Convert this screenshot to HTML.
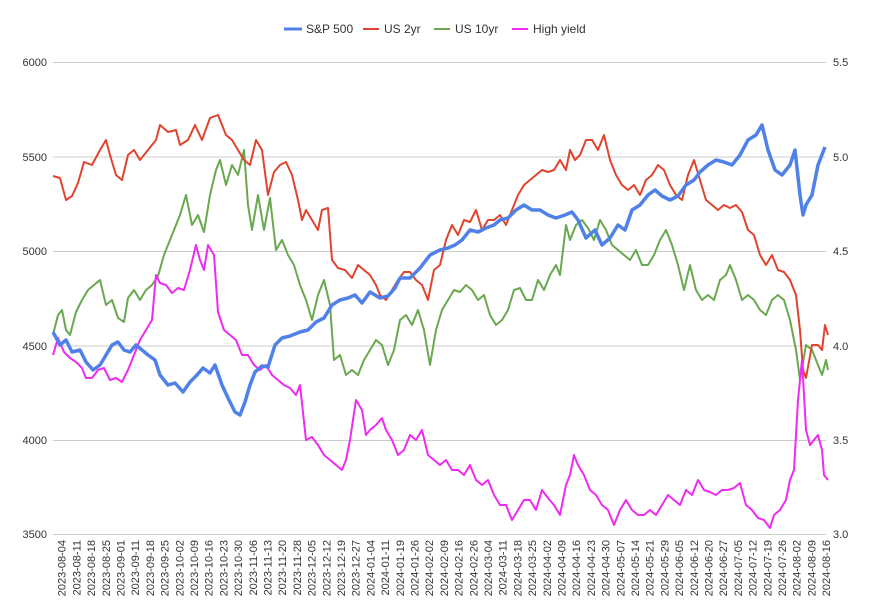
<!DOCTYPE html>
<html><head><style>body{margin:0;background:#fff}svg{display:block;font-family:"Liberation Sans",sans-serif}</style></head><body>
<svg width="879" height="613" xmlns="http://www.w3.org/2000/svg">
<g stroke="#ccc" stroke-width="1">
<line x1="53" x2="826" y1="62.5" y2="62.5"/><line x1="53" x2="826" y1="157" y2="157"/><line x1="53" x2="826" y1="251.5" y2="251.5"/><line x1="53" x2="826" y1="346" y2="346"/><line x1="53" x2="826" y1="440.5" y2="440.5"/><line x1="53" x2="826" y1="534.5" y2="534.5"/>
</g>
<g font-size="11" fill="#333" text-anchor="end">
<text x="47" y="66">6000</text><text x="47" y="161">5500</text><text x="47" y="255">5000</text><text x="47" y="350">4500</text><text x="47" y="444">4000</text><text x="47" y="538">3500</text>
</g>
<g font-size="11" fill="#333" text-anchor="start">
<text x="833" y="66">5.5</text><text x="833" y="161">5.0</text><text x="833" y="255">4.5</text><text x="833" y="350">4.0</text><text x="833" y="444">3.5</text><text x="833" y="538">3.0</text>
</g>
<g font-size="12" fill="#333">
<line x1="284" x2="302" y1="29" y2="29" stroke="#4f81e8" stroke-width="3"/><text x="306" y="33">S&amp;P 500</text>
<line x1="363" x2="379" y1="29" y2="29" stroke="#e0442e" stroke-width="2"/><text x="384" y="33">US 2yr</text>
<line x1="434" x2="450" y1="29" y2="29" stroke="#6aa84f" stroke-width="2"/><text x="455" y="33">US 10yr</text>
<line x1="512" x2="528" y1="29" y2="29" stroke="#ee2bf0" stroke-width="2"/><text x="533" y="33">High yield</text>
</g>
<g id="xl" font-size="11" fill="#333" text-anchor="end"></g>
<g fill="none" stroke-linejoin="round">
<polyline stroke="#6aa84f" stroke-width="2" points="53,335 58,315 62,310 66,330 70,335 76,312 82,300 88,290 94,285 100,280 106,305 112,300 118,318 124,322 128,298 134,290 140,300 146,290 152,285 158,276 164,255 170,240 176,225 180,215 186,195 192,225 198,215 204,232 210,195 216,170 220,160 226,185 232,165 238,175 244,150 248,205 252,230 258,195 264,230 270,198 276,250 282,240 288,255 294,265 300,285 306,300 312,320 318,295 324,280 330,305 334,360 340,355 346,375 352,370 358,375 364,360 370,350 376,340 382,345 388,365 394,350 400,320 406,315 412,325 418,310 424,330 430,365 436,330 442,310 448,300 454,290 460,292 466,285 472,290 478,300 484,295 490,315 496,325 502,320 508,310 514,290 520,288 526,300 532,300 538,280 544,290 550,275 556,265 560,275 566,225 570,240 576,225 582,220 588,228 594,240 600,220 606,230 612,245 618,250 624,255 630,260 636,250 642,265 648,265 654,255 660,240 666,230 672,245 678,265 684,290 690,265 696,290 702,300 708,295 714,300 720,280 726,275 730,265 736,280 742,300 748,295 754,300 760,310 766,315 772,300 778,295 784,300 790,320 796,350 800,380 806,345 812,350 818,365 822,375 826,360 828,370"/>
<polyline stroke="#e0442e" stroke-width="2" points="53,176 60,178 66,200 72,196 78,183 84,162 92,165 100,150 106,140 110,155 116,175 122,180 128,155 134,150 140,160 148,150 156,140 160,125 168,132 176,130 180,145 188,140 195,125 202,140 210,118 218,115 226,135 232,140 238,150 244,160 250,165 256,140 262,150 268,195 274,172 280,165 286,162 292,175 298,200 302,220 306,210 312,220 318,230 322,210 328,208 332,260 338,268 345,270 352,278 358,265 364,270 370,275 376,285 380,295 386,300 392,290 398,280 404,272 410,272 416,280 422,285 428,300 434,270 440,265 446,240 452,225 458,235 464,220 470,222 476,210 482,230 488,220 494,220 500,215 506,225 512,210 518,195 524,185 530,180 536,175 542,170 548,172 554,170 560,160 566,170 570,150 575,160 580,155 586,140 592,140 598,150 604,135 610,160 616,175 622,185 628,190 634,185 640,195 646,180 652,175 658,165 664,170 670,185 676,195 682,200 688,175 694,160 700,180 706,200 712,205 718,210 724,205 730,208 736,205 742,212 748,230 754,235 760,255 766,265 772,255 778,270 784,272 790,280 796,295 800,330 803,370 806,378 812,345 818,345 822,350 825,325 828,335"/>
<polyline stroke="#ee2bf0" stroke-width="2" points="53,355 58,338 64,352 70,358 76,362 82,368 86,378 92,378 98,370 104,368 110,380 116,378 122,382 128,370 134,355 140,340 146,330 152,320 156,275 160,283 166,285 172,293 178,288 184,290 190,270 196,245 200,260 204,270 208,245 214,255 218,312 224,330 230,335 236,340 242,355 248,355 254,365 260,370 266,365 272,375 278,380 284,385 290,388 296,395 300,385 306,440 312,437 318,445 324,455 330,460 336,465 342,470 346,460 350,440 356,400 362,410 366,435 370,430 376,425 382,418 386,430 392,440 398,455 404,450 410,435 416,440 422,430 428,455 434,460 440,465 446,460 452,470 458,470 464,475 470,465 476,480 482,485 488,480 494,495 500,505 506,505 512,520 518,510 524,500 530,500 536,510 542,490 548,498 554,505 560,515 566,485 570,475 574,455 578,465 584,475 590,490 596,495 602,505 608,510 614,525 620,510 626,500 632,510 638,515 644,515 650,510 656,515 662,505 668,495 674,500 680,505 686,490 692,495 698,480 704,490 710,492 716,495 722,490 728,490 734,488 740,483 746,505 752,510 758,518 764,520 770,528 774,515 780,510 786,500 790,480 794,470 798,400 802,360 806,430 810,445 814,440 818,435 822,450 824,475 828,480"/>
<polyline stroke="#4f81e8" stroke-width="3.5" points="53,332 60,345 66,340 72,352 80,350 86,362 93,370 100,365 106,355 112,345 118,342 124,350 130,352 136,345 142,350 148,355 155,360 160,375 168,385 175,383 183,392 190,382 197,375 203,368 210,373 215,365 222,385 228,398 235,412 240,415 245,402 250,385 255,372 262,366 268,367 275,345 282,338 290,336 300,332 308,330 316,322 324,318 332,305 340,300 348,298 355,295 362,303 370,292 380,298 388,296 395,288 400,278 410,278 420,268 430,255 440,250 448,248 455,245 462,240 470,230 478,232 486,228 494,225 500,220 508,218 516,210 524,205 532,210 540,210 548,215 556,218 565,215 572,212 578,220 586,238 595,230 602,245 610,238 618,225 625,230 632,210 640,205 648,195 655,190 662,196 670,200 678,196 686,185 694,180 700,172 708,165 716,160 724,162 732,165 740,155 748,140 756,135 762,125 768,150 775,170 782,175 790,165 795,150 800,195 803,215 806,205 812,195 818,165 825,147"/>
</g>
</svg>
<script>
var d="2023-08-04 2023-08-11 2023-08-18 2023-08-25 2023-09-01 2023-09-11 2023-09-18 2023-09-25 2023-10-02 2023-10-09 2023-10-16 2023-10-23 2023-10-30 2023-11-06 2023-11-13 2023-11-20 2023-11-28 2023-12-05 2023-12-12 2023-12-19 2023-12-27 2024-01-04 2024-01-11 2024-01-19 2024-01-26 2024-02-02 2024-02-09 2024-02-16 2024-02-26 2024-03-04 2024-03-11 2024-03-18 2024-03-25 2024-04-02 2024-04-09 2024-04-16 2024-04-23 2024-04-30 2024-05-07 2024-05-14 2024-05-21 2024-05-29 2024-06-05 2024-06-12 2024-06-20 2024-06-27 2024-07-05 2024-07-12 2024-07-19 2024-07-26 2024-08-02 2024-08-09 2024-08-16".split(" ");
var g=document.getElementById("xl"),s="";
d.forEach(function(t,i){var x=(61.7+i*14.7+4).toFixed(1);s+='<text transform="translate('+x+',540) rotate(-90)">'+t+'</text>';});
g.innerHTML=s;
</script>
</body></html>
